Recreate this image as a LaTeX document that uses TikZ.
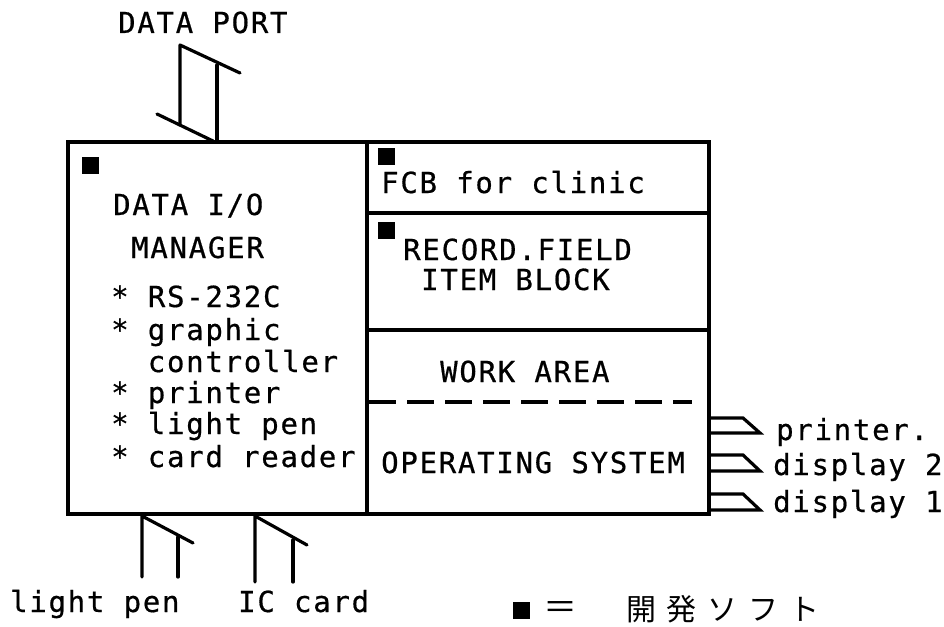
\documentclass[tikz,border=0pt]{standalone}
\usepackage{fontspec}
\newfontfamily\mono[LetterSpace=6,FakeBold=0.6]{DejaVu Sans Mono}
\newfontfamily\cjk[LetterSpace=36]{Noto Sans CJK JP}
\begin{document}
\begin{tikzpicture}[x=1pt,y=-1pt,
  txt/.style={font=\mono\fontsize{29}{32}\selectfont, inner sep=0pt, anchor=base west},
  wall/.style={line width=3.2pt},
  port/.style={line width=3.2pt, line cap=round, line join=round},
  outarrow/.style={line width=3.2pt, line cap=butt, line join=miter},
  sqmark/.style={fill=black, draw=none, minimum size=17pt, inner sep=0pt, anchor=north west},
]
\useasboundingbox (0,0) rectangle (944,626);
\fill[white] (0,0) rectangle (944,626);

% main box
\draw[wall] (68,142) rectangle (709,514);
\draw[wall] (367,142) -- (367,514);
\draw[wall] (367,213) -- (709,213);
\draw[wall] (367,330) -- (709,330);
\draw[line width=4pt, dash pattern=on 27pt off 11pt] (369,402) -- (692,402);

% markers
\node[sqmark] (m1) at (82,157) {};
\node[sqmark] (m2) at (378,148) {};
\node[sqmark] (m3) at (378,222) {};

% data port
\coordinate (dp1) at (180,45);
\coordinate (dp2) at (240,73);
\coordinate (dp3) at (180,125);
\coordinate (dp4) at (217,65);
\coordinate (dp5) at (217,141);
\coordinate (dp6) at (157,114);
\coordinate (dp7) at (213,141);
\draw[port] (dp3) -- (dp1) -- (dp2);
\draw[port] (dp4) -- (dp5);
\draw[port] (dp6) -- (dp7);

% light pen port
\coordinate (lp1) at (142,577);
\coordinate (lp2) at (142,516);
\coordinate (lp3) at (193,543);
\coordinate (lp4) at (178,537);
\coordinate (lp5) at (178,577);
\draw[port] (lp1) -- (lp2) -- (lp3);
\draw[port] (lp4) -- (lp5);

% IC card port
\coordinate (ic1) at (255,582);
\coordinate (ic2) at (255,516);
\coordinate (ic3) at (307,545);
\coordinate (ic4) at (293,540);
\coordinate (ic5) at (293,582);
\draw[port] (ic1) -- (ic2) -- (ic3);
\draw[port] (ic4) -- (ic5);

% output arrows
\coordinate (pa1) at (709,418);
\coordinate (pa2) at (743,418);
\coordinate (pa3) at (760,433);
\coordinate (pa4) at (709,433);
\draw[outarrow] (pa1) -- (pa2) -- (pa3) -- (pa4);
\coordinate (da1) at (709,455);
\coordinate (da2) at (743,455);
\coordinate (da3) at (760,471);
\coordinate (da4) at (709,471);
\draw[outarrow] (da1) -- (da2) -- (da3) -- (da4);
\coordinate (db1) at (709,494);
\coordinate (db2) at (743,494);
\coordinate (db3) at (760,510);
\coordinate (db4) at (709,510);
\draw[outarrow] (db1) -- (db2) -- (db3) -- (db4);

% texts
\node[txt] (tport) at (118,33) {DATA PORT};
\node[txt] (tdio) at (113,215) {DATA I/O};
\node[txt] (tman) at (131,258) {MANAGER};
\node[txt] (t1) at (111,307) {* RS-232C};
\node[txt] (t2) at (111,340) {* graphic};
\node[txt] (t3) at (111,372) {\phantom{*} controller};
\node[txt] (t4) at (111,403) {* printer};
\node[txt] (t5) at (111,434) {* light pen};
\node[txt] (t6) at (111,467) {* card reader};

\node[txt] (tfcb) at (381,193) {FCB for clinic};
\node[txt] (trec) at (403,260) {RECORD.FIELD};
\node[txt] (titem) at (421,290) {ITEM BLOCK};
\node[txt] (twork) at (440,382) {WORK AREA};
\node[txt] (tos) at (381,473) {OPERATING SYSTEM};

\node[txt] (tpr) at (776,440) {printer.};
\node[txt] (td2) at (773,475) {display 2};
\node[txt] (td1) at (773,512) {display 1};

\node[txt] (tlp) at (10,612) {light pen};
\node[txt] (tic) at (238,612) {IC card};

% legend
\node[sqmark] (m4) at (513,602) {};
\node[font=\cjk\fontsize{34}{36}\selectfont, inner sep=0pt, anchor=west] (teq) at (543,610) {＝};
\node[font=\cjk\fontsize{30}{32}\selectfont, inner sep=0pt, anchor=west] (tleg) at (626,609) {開発ソフト};
\end{tikzpicture}
\end{document}
